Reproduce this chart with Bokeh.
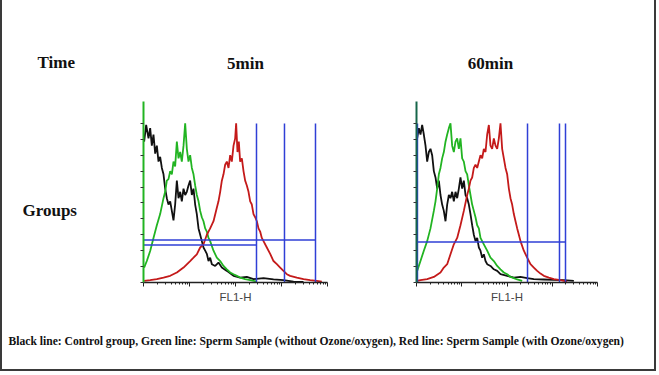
import numpy as np
from bokeh.plotting import figure
from bokeh.layouts import column, row
from bokeh.models import Range1d, FixedTicker
from bokeh.core.properties import value
from bokeh.embed import file_html
from bokeh.resources import INLINE

# ---------------- texts ----------------
time_title = "Time"
group_title = "Groups"
time_labels = ["5min", "60min"]
axis_title = "FL1-H"
caption = ("Black line: Control group, Green line: Sperm Sample (without Ozone/oxygen), "
           "Red line: Sperm Sample (with Ozone/oxygen)")

# ---------------- data: log10(FL1-H) and counts ----------------
# 5 min panel
black5_log = [0.014, 0.058, 0.109, 0.145, 0.181, 0.217, 0.254, 0.290, 0.326, 0.362, 0.399, 0.435,
              0.471, 0.507, 0.543, 0.580, 0.616, 0.652, 0.688, 0.725, 0.761, 0.797, 0.833, 0.870,
              0.906, 0.942, 0.978, 1.014, 1.051, 1.087, 1.123, 1.159, 1.196, 1.232, 1.268, 1.304,
              1.341, 1.377, 1.413, 1.449, 1.486, 1.558, 1.630, 1.703, 1.812, 1.957, 2.101, 2.246,
              2.391, 2.609, 2.826, 3.043, 3.261, 3.478]
black5_cnt = [88.5, 99, 90.6, 97, 86, 93, 81, 86, 76, 79, 72, 68, 59, 53, 49, 51, 45, 39, 49, 64,
              53, 57, 51, 59, 55, 57, 61, 64, 55, 59, 49, 43, 34, 30, 26, 22, 20, 18, 13.5, 15.6,
              11.5, 10.4, 12.5, 9.4, 7.3, 4.2, 3.1, 3.5, 2.1, 2.7, 1.9, 1.5, 0.6, 0.4]
green5_log = [0.014, 0.072, 0.145, 0.217, 0.290, 0.362, 0.435, 0.471, 0.507, 0.543, 0.580, 0.616,
              0.652, 0.688, 0.725, 0.761, 0.797, 0.833, 0.870, 0.906, 0.942, 0.978, 1.014, 1.051,
              1.087, 1.123, 1.159, 1.196, 1.232, 1.268, 1.304, 1.341, 1.377, 1.413, 1.449, 1.522,
              1.594, 1.667, 1.739, 1.812, 1.884, 1.957, 2.029, 2.101, 2.210, 2.319, 2.464]
green5_cnt = [9.4, 13.5, 19.8, 28, 36, 43, 53, 57, 64, 65, 70, 68, 76, 73, 88.5, 78, 82, 76, 86,
              100, 84, 76, 80, 72, 68, 61, 55, 51, 45, 41, 38.5, 34, 32, 28, 26, 20, 15.6, 13.5,
              10.4, 8.3, 6.3, 5.2, 4.2, 3.1, 2.1, 1.5, 0.6]
red5_log = [0.014, 0.145, 0.290, 0.435, 0.580, 0.725, 0.870, 1.014, 1.087, 1.159, 1.232, 1.304,
            1.377, 1.449, 1.522, 1.594, 1.630, 1.667, 1.703, 1.739, 1.775, 1.812, 1.848, 1.884,
            1.920, 1.957, 1.993, 2.014, 2.043, 2.072, 2.101, 2.138, 2.174, 2.210, 2.246, 2.283,
            2.319, 2.355, 2.391, 2.428, 2.464, 2.500, 2.536, 2.572, 2.609, 2.681, 2.754, 2.826,
            2.899, 2.971, 3.043, 3.116, 3.188, 3.333, 3.478, 3.623, 3.768, 3.877]
red5_cnt = [1, 1.5, 2.1, 3.1, 4.2, 6.3, 9.4, 13.5, 15.6, 17.7, 22, 24, 30, 34, 38.5, 47, 51, 57,
            64, 68, 74, 76, 72, 80, 76, 86, 90.6, 100, 82, 88.5, 76, 78, 70, 64, 61, 57, 51, 49,
            43, 41, 38.5, 34, 32, 28, 26, 22, 18, 13.5, 11.5, 9.4, 7.3, 5.2, 4.2, 3.1, 2.1, 1.5,
            1, 0.6]
gates5_vert = [286, 1161, 5483]
gates5_h_level = [26.7, 23.5]
gates5_h_end = [5483, 286]

# 60 min panel
black60_log = [0.015, 0.052, 0.088, 0.125, 0.162, 0.199, 0.236, 0.273, 0.309, 0.346, 0.383, 0.420,
               0.457, 0.494, 0.530, 0.567, 0.604, 0.641, 0.678, 0.715, 0.751, 0.788, 0.825, 0.862,
               0.899, 0.936, 0.972, 1.009, 1.046, 1.083, 1.120, 1.157, 1.193, 1.230, 1.267, 1.304,
               1.341, 1.378, 1.414, 1.451, 1.488, 1.525, 1.562, 1.635, 1.709, 1.783, 1.856, 2.004,
               2.151, 2.298, 2.446, 2.593, 2.814, 3.035, 3.256, 3.477]
black60_cnt = [90.6, 97, 93, 99, 93, 86, 76, 82, 84, 80, 70, 66, 59, 64, 55, 49, 45, 38.5, 49, 55,
               53, 57, 51, 57, 53, 59, 66, 59, 64, 55, 53, 49, 43, 36, 30, 26, 28, 22, 20, 15.6,
               17.7, 13.5, 11.5, 10.4, 8.3, 7.3, 5.2, 4.2, 3.1, 3.5, 2.7, 2.1, 1.9, 1.7, 1.5, 1]
green60_log = [0.015, 0.088, 0.162, 0.236, 0.309, 0.383, 0.420, 0.457, 0.494, 0.530, 0.567, 0.604,
               0.641, 0.678, 0.715, 0.751, 0.788, 0.825, 0.862, 0.899, 0.936, 0.972, 1.009, 1.046,
               1.083, 1.120, 1.157, 1.193, 1.230, 1.267, 1.304, 1.341, 1.378, 1.414, 1.451, 1.488,
               1.562, 1.635, 1.709, 1.783, 1.856, 1.930, 2.004, 2.077, 2.151, 2.225, 2.335]
green60_cnt = [7.3, 13.5, 20, 26, 34, 45, 51, 59, 68, 72, 78, 82, 88.5, 93, 97, 100, 86, 82, 88.5,
               90.6, 84, 90.6, 78, 76, 70, 68, 61, 55, 49, 45, 41, 36, 34, 28, 26, 24, 20, 15.6,
               13.5, 10.4, 8.3, 6.3, 5.2, 3.5, 2.7, 1.9, 1]
red60_log = [0.015, 0.088, 0.236, 0.383, 0.530, 0.604, 0.678, 0.751, 0.825, 0.899, 0.972, 1.046,
             1.120, 1.157, 1.193, 1.230, 1.267, 1.304, 1.341, 1.378, 1.414, 1.451, 1.488, 1.525,
             1.562, 1.599, 1.635, 1.672, 1.709, 1.746, 1.783, 1.820, 1.856, 1.893, 1.930, 1.967,
             2.004, 2.041, 2.077, 2.114, 2.151, 2.188, 2.225, 2.262, 2.298, 2.372, 2.446, 2.519,
             2.593, 2.667, 2.740, 2.814, 2.925, 3.035, 3.182, 3.330]
red60_cnt = [1, 1.5, 2.1, 3.5, 6.3, 9.4, 11.5, 17.7, 24, 28, 36, 45, 55, 59, 64, 66, 72, 74, 72, 76,
             80, 78, 84, 82, 93, 99, 86, 84, 90.6, 86, 84, 90.6, 100, 84, 78, 72, 68, 59, 53, 49,
             43, 38.5, 34, 30, 26, 20, 15.6, 11.5, 9.4, 7.3, 5.6, 4.2, 3.1, 2.1, 1.5, 0.6]
gates60_vert = [1.05, 284, 1445, 1963]
gates60_h_level = [25.4]
gates60_h_end = [1963]

gate_top = 100
y_ticks = [0, 10, 20, 30, 40, 50, 60, 70, 80, 90, 100]
x_major = [1, 10, 100, 1000, 10000]
x_minor = [k * 10 ** n for n in range(4) for k in range(2, 10)]

BLACK = "#111111"
GREEN = "#22b422"
RED = "#c41a1a"
BLUE = "#2f3fd6"
SERIF = value("Liberation Serif")


def blank(w, h):
    p = figure(width=w, height=h, x_range=Range1d(0, w), y_range=Range1d(h, 0),
               output_backend="svg", toolbar_location=None, min_border=0,
               x_axis_type=None, y_axis_type=None)
    p.outline_line_color = None
    p.background_fill_color = None
    p.border_fill_color = None
    return p


def panel(curves, gv, gl, ge, frame_w, axis_color):
    p = figure(width=10 + frame_w + 5, height=207, x_axis_type="log",
               x_range=Range1d(1, 1e4), y_range=Range1d(0, 113.75),
               output_backend="svg", toolbar_location=None,
               min_border_left=10, min_border_right=5, min_border_top=3, min_border_bottom=22)
    p.outline_line_color = None
    p.background_fill_color = None
    p.border_fill_color = None
    p.grid.visible = False
    for lg, cnt, col in curves:
        p.line(x=10 ** np.array(lg), y=cnt, line_color=col, line_width=1.8)
    p.segment(x0=gv, y0=[0] * len(gv), x1=gv, y1=[gate_top] * len(gv),
              line_color=BLUE, line_width=1.5)
    p.segment(x0=[1] * len(gl), y0=gl, x1=ge, y1=gl, line_color=BLUE, line_width=1.5)

    ya = p.yaxis[0]
    ya.ticker = FixedTicker(ticks=y_ticks)
    ya.major_label_text_font_size = "1px"
    ya.major_label_text_color = None
    ya.major_label_standoff = 0
    ya.major_tick_out = 3
    ya.major_tick_in = 0
    ya.minor_tick_out = 0
    ya.minor_tick_in = 0
    ya.axis_line_color = axis_color
    ya.axis_line_width = 2
    ya.major_tick_line_color = "#333333"

    xa = p.xaxis[0]
    xa.ticker = FixedTicker(ticks=x_major, minor_ticks=x_minor)
    xa.major_label_text_font_size = "1px"
    xa.major_label_text_color = None
    xa.major_label_standoff = 0
    xa.major_tick_out = 4
    xa.major_tick_in = 0
    xa.minor_tick_out = 2
    xa.minor_tick_in = 0
    xa.axis_line_color = "#222222"
    xa.axis_line_width = 1.5
    xa.major_tick_line_color = "#222222"
    xa.minor_tick_line_color = "#222222"
    xa.axis_label = axis_title
    xa.axis_label_text_font = "Liberation Sans"
    xa.axis_label_text_font_size = "11.5px"
    xa.axis_label_text_font_style = "normal"
    xa.axis_label_text_color = "#444444"
    xa.axis_label_standoff = 4
    return p


W = 656
# header
head = blank(W, 98)
head.text(x=[37], y=[62], text=[time_title], text_font=SERIF, text_font_style="bold",
          text_font_size="17px", text_baseline="middle", text_align="left", text_color="#111111")
head.text(x=[245, 490], y=[63, 63], text=time_labels, text_font=SERIF, text_font_style="bold",
          text_font_size="17px", text_baseline="middle", text_align="center", text_color="#111111")

# middle row
left = blank(133, 207)
left.text(x=[22], y=[125], text=[group_title], text_font=SERIF, text_font_style="bold",
          text_font_size="17px", text_baseline="middle", text_align="left", text_color="#111111")

p5 = panel([(black5_log, black5_cnt, BLACK), (green5_log, green5_cnt, GREEN),
            (red5_log, red5_cnt, RED)],
           gates5_vert, gates5_h_level, gates5_h_end, 184, GREEN)
mid = blank(74, 207)
p60 = panel([(black60_log, black60_cnt, BLACK), (green60_log, green60_cnt, GREEN),
             (red60_log, red60_cnt, RED)],
            gates60_vert, gates60_h_level, gates60_h_end, 181, "#17664a")
right = blank(W - 133 - 199 - 74 - 196, 207)

# caption
foot = blank(W, 66)
foot.text(x=[8], y=[36], text=[caption], text_font=SERIF, text_font_style="bold",
          text_font_size="11.6px", text_baseline="middle", text_align="left", text_color="#111111")

layout = column(head, row(left, p5, mid, p60, right), foot,
                styles={"box-shadow": "inset 2px 0 0 #3a3a3a, inset -2px 0 0 #3a3a3a, "
                                      "inset 0 -2px 0 #3a3a3a"})

open("out.html", "w").write(file_html(layout, INLINE))
